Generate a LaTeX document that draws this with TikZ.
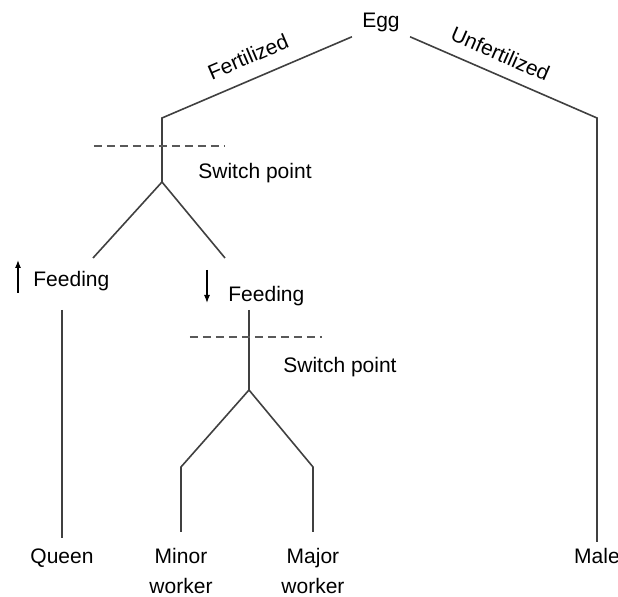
\documentclass[tikz,border=0pt]{standalone}
\usepackage{fontspec}
\setmainfont{Liberation Sans}
\usetikzlibrary{arrows.meta, positioning}

\begin{document}
\begin{tikzpicture}[
    x=0.5pt, y=-0.5pt,
    font=\fontsize{10.5}{15}\selectfont,
    branch/.style={draw=black!75, line width=0.8pt},
    cut/.style={draw=black!65, line width=0.75pt, dash pattern=on 4pt off 2.5pt},
    tag/.style={inner sep=0pt, anchor=west},
    leaf/.style={inner sep=0pt, anchor=north, align=center},
    trend/.style={-{Latex[length=4pt, width=3pt]}, line width=0.6pt},
    edge_text/.style={sloped, inner sep=0pt}
]
\useasboundingbox (0,0) rectangle (618,597);

% Nodes
\node (egg) [inner xsep=5pt, inner ysep=2.5pt] at (381,22) {Egg};
\node (switch_a) [tag] at (198,173) {Switch point};
\node (feed_up) [tag] at (33,281) {Feeding};
\node (feed_down) [tag] at (228,296) {Feeding};
\node (switch_b) [tag] at (283,367) {Switch point};
\node (queen) [leaf] at (62,548) {Queen};
\node (minor) [leaf] at (181,548) {Minor\\worker};
\node (major) [leaf] at (313,548) {Major\\worker};
\node (male) [leaf] at (597,548) {Male};

% Corner points of the tree
\coordinate (fert) at (162,118);
\coordinate (unfert) at (597,118);
\coordinate (split_a) at (162,182);
\coordinate (left_end) at (93,258);
\coordinate (right_end) at (225,258);
\coordinate (queen_top) at (62,310);
\coordinate (worker_top) at (249,310);
\coordinate (split_b) at (249,390);
\coordinate (minor_knee) at (181,467);
\coordinate (major_knee) at (313,467);

% Egg branches
\draw [branch] (egg.south west) -- (fert)
    node[midway, above=7pt, edge_text] {Fertilized} -- (split_a);
\draw [branch] (egg.south east) -- (unfert)
    node[pos=0.44, above=6pt, edge_text] {Unfertilized} -- ([yshift=3pt]male.north);

% First switch
\draw [cut] (94,146) -- (225,146);
\draw [branch] (split_a) -- (left_end);
\draw [branch] (split_a) -- (right_end);
\draw [trend] (18,293) -- (18,260);
\draw [trend] (207,270) -- (207,303);

% Queen line
\draw [branch] (queen_top) -- ([yshift=5pt]queen.north);

% Second switch
\draw [branch] (worker_top) -- (split_b);
\draw [cut] (190,337) -- (322,337);
\draw [branch] (split_b) -- (minor_knee) -- ([yshift=8pt]minor.north);
\draw [branch] (split_b) -- (major_knee) -- ([yshift=8pt]major.north);

\end{tikzpicture}
\end{document}
